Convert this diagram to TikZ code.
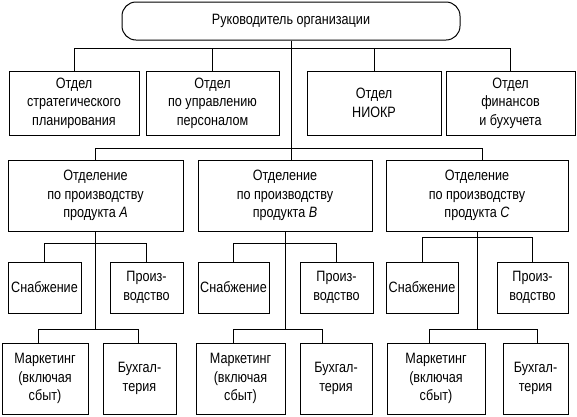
\documentclass[tikz,border=0pt]{standalone}
\usepackage{fontspec}
\setmainfont[FakeStretch=0.84]{Liberation Sans}
\usepackage{tikz}
\usetikzlibrary{positioning}

\begin{document}
\begin{tikzpicture}[
			x=1pt, y=-1pt,
			line width=0.8pt,
			every node/.style={
					draw,
					line width=1pt,
					align=center,
					inner sep=0pt,
					font=\fontsize{15}{18.5}\selectfont
				},
			unit/.style 2 args={minimum width=#1, minimum height=#2}
		]
		\useasboundingbox (0, 0) rectangle (577, 416);

		\node[unit={338pt}{38pt}, rounded corners=14pt] (head) at (291, 21) {Руководитель организации};

		% staff departments
		\node[unit={130pt}{64pt}] (o1) at (74, 103) {Отдел\\стратегического\\планирования};
		\node[unit={133pt}{64pt}] (o2) at (212.5, 103) {Отдел\\по управлению\\персоналом};
		\node[unit={134pt}{64pt}] (o3) at (374, 103) {Отдел\\НИОКР};
		\node[unit={129pt}{64pt}] (o4) at (510.5, 103) {Отдел\\финансов\\и бухучета};

		% product divisions
		\node[unit={175pt}{71pt}] (dA) at (95.5, 195.5) {Отделение\\по производству\\продукта \textit{A}};
		\node[unit={174pt}{71pt}] (dB) at (285, 195.5) {Отделение\\по производству\\продукта \textit{B}};
		\node[unit={182pt}{71pt}] (dC) at (477, 195.5) {Отделение\\по производству\\продукта \textit{C}};

		\node[unit={73pt}{51pt}] (sA) at (44.5, 287.5) {Снабжение};
		\node[unit={73pt}{51pt}] (pA) at (146.5, 287.5) {Произ-\\водство};
		\node[unit={71pt}{51pt}] (sB) at (233.5, 287.5) {Снабжение};
		\node[unit={73pt}{51pt}] (pB) at (336.5, 287.5) {Произ-\\водство};
		\node[unit={72pt}{51pt}] (sC) at (422, 287.5) {Снабжение};
		\node[unit={71pt}{51pt}] (pC) at (532.5, 287.5) {Произ-\\водство};

		\node[unit={86pt}{71pt}] (mA) at (45, 378.5) {Маркетинг\\(включая\\сбыт)};
		\node[unit={73pt}{71pt}] (bA) at (139.5, 378.5) {Бухгал-\\терия};
		\node[unit={89pt}{71pt}] (mB) at (240.5, 378.5) {Маркетинг\\(включая\\сбыт)};
		\node[unit={72pt}{71pt}] (bB) at (336, 378.5) {Бухгал-\\терия};
		\node[unit={98pt}{71pt}] (mC) at (436, 378.5) {Маркетинг\\(включая\\сбыт)};
		\node[unit={65pt}{71pt}] (bC) at (535.5, 378.5) {Бухгал-\\терия};

		\coordinate (hub1) at (291, 48);
		\coordinate (hub2) at (291, 148);

		\draw (head.south) -- (head.south |- dB.north);
		\foreach \n in {o1, o2, o3, o4}
		\draw (hub1) -| (\n.north);
		\draw (hub2) -| (dA.north);
		\draw (hub2) -| ([xshift=5pt]dC.north);

		\foreach \d/\y/\s in {A/243/-1, B/243/-14, C/237/2} {
				\draw (d\d.south) -- (d\d.south |- 0,329);
				\draw (d\d.south |- 0,\y) -| (s\d.north);
				\draw (d\d.south |- 0,\y) -| (p\d.north);
				\draw (d\d.south |- 0,329) -| ([xshift=-7pt]m\d.north);
				\draw (d\d.south |- 0,329) -| ([xshift=\s pt]b\d.north);
			}
	\end{tikzpicture}
\end{document}
